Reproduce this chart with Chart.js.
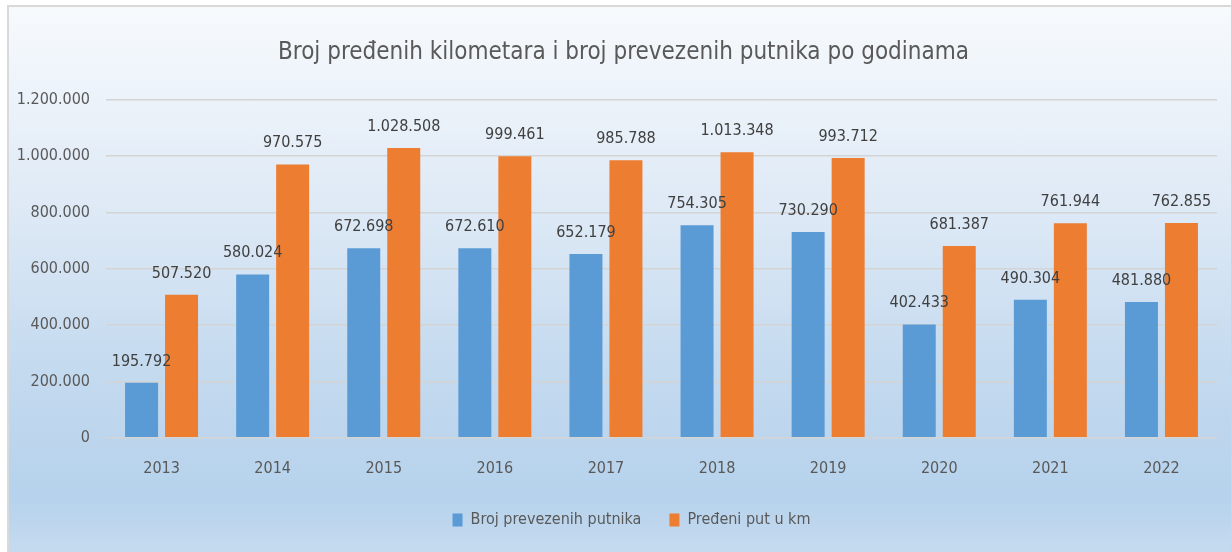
<!DOCTYPE html>
<html>
<head>
<meta charset="utf-8">
<script src="https://cdn.jsdelivr.net/npm/chart.js@4.4.1/dist/chart.umd.min.js"></script>
<style>
  html, body { margin: 0; padding: 0; background: #fff; overflow: hidden; }
  #frame {
    position: absolute; left: 7px; top: 5px; width: 1240px; height: 560px;
    border: 2px solid #d9d9d9; box-sizing: border-box;
    background: linear-gradient(to bottom, #f7fafd 0%, #dfeaf6 35%, #c4daef 65%, #b6d2ec 88%, #c8dcf0 100%);
  }
  #wrap { position: absolute; left: 0; top: 0; width: 1231px; height: 552px; }
</style>
</head>
<body>
<div id="frame"></div>
<div id="wrap"><canvas id="chart"></canvas></div>
<script>
// --- Data ---
const years = ['2013', '2014', '2015', '2016', '2017', '2018', '2019', '2020', '2021', '2022'];
const passengers = [195792, 580024, 672698, 672610, 652179, 754305, 730290, 402433, 490304, 481880];
const kilometers = [507520, 970575, 1028508, 999461, 985788, 1013348, 993712, 681387, 761944, 762855];
const yTicks = [0, 200000, 400000, 600000, 800000, 1000000, 1200000];

const FONT = "'Liberation Sans Narrow', 'DejaVu Sans Condensed', 'Liberation Sans', sans-serif";

// thousands with dots, like the original
function fmt(v) {
    return String(v).replace(/\B(?=(\d{3})+(?!\d))/g, '.');
}

// draws the value above every bar
const valueLabels = {
    id: 'valueLabels',
    afterDatasetsDraw(chart) {
        const ctx = chart.ctx;
        ctx.save();
        ctx.font = '16px ' + FONT;
        ctx.fillStyle = '#404040';
        ctx.textAlign = 'center';
        ctx.textBaseline = 'alphabetic';
        chart.data.datasets.forEach((ds, i) => {
            chart.getDatasetMeta(i).data.forEach((bar, j) => {
                ctx.fillText(fmt(ds.data[j]), bar.x, bar.y - 17);
            });
        });
        ctx.restore();
    }
};

// title and legend sit a bit right of the canvas centre in the original
const nudgeBlocks = {
    id: 'nudgeBlocks',
    afterLayout(chart) {
        if (chart.titleBlock) { chart.titleBlock.left += 15; chart.titleBlock.right += 15; }
        if (chart.legend) { chart.legend.left += 23; chart.legend.right += 23; }
    }
};

new Chart(document.getElementById('chart'), {
    type: 'bar',
    data: {
        labels: years,
        datasets: [
            { label: 'Broj prevezenih putnika', data: passengers, backgroundColor: '#5b9bd5' },
            { label: 'Pređeni put u km', data: kilometers, backgroundColor: '#ed7d31' }
        ]
    },
    options: {
        responsive: true,
        maintainAspectRatio: false,
        animation: false,
        devicePixelRatio: 1,
        categoryPercentage: 0.72,
        barPercentage: 0.825,
        layout: { padding: { left: 0, right: 14, top: 0, bottom: 14 } },
        scales: {
            x: {
                grid: { display: false },
                border: { display: false },
                afterFit: (scale) => { scale.height -= 7; },
                ticks: { color: '#595959', font: { size: 16, family: FONT }, padding: 13 }
            },
            y: {
                min: 0, max: 1200000,
                afterBuildTicks: (scale) => { scale.ticks = yTicks.map(v => ({ value: v })); },
                afterFit: (scale) => { scale.width = 106; },
                grid: { color: '#d4d4d4', lineWidth: 1.5, drawTicks: false },
                border: { display: false },
                ticks: {
                    color: '#595959', font: { size: 16, family: FONT }, padding: 16,
                    callback: (v) => fmt(v)
                }
            }
        },
        plugins: {
            title: {
                display: true,
                text: 'Broj pređenih kilometara i broj prevezenih putnika po godinama',
                color: '#595959',
                font: { size: 24, family: FONT, weight: 'normal' },
                padding: { top: 38, bottom: 33 }
            },
            legend: {
                position: 'bottom',
                labels: {
                    color: '#595959', font: { size: 16, family: FONT },
                    boxWidth: 10, boxHeight: 13, padding: 28
                }
            },
            tooltip: { enabled: false }
        }
    },
    plugins: [valueLabels, nudgeBlocks]
});
</script>
</body>
</html>
